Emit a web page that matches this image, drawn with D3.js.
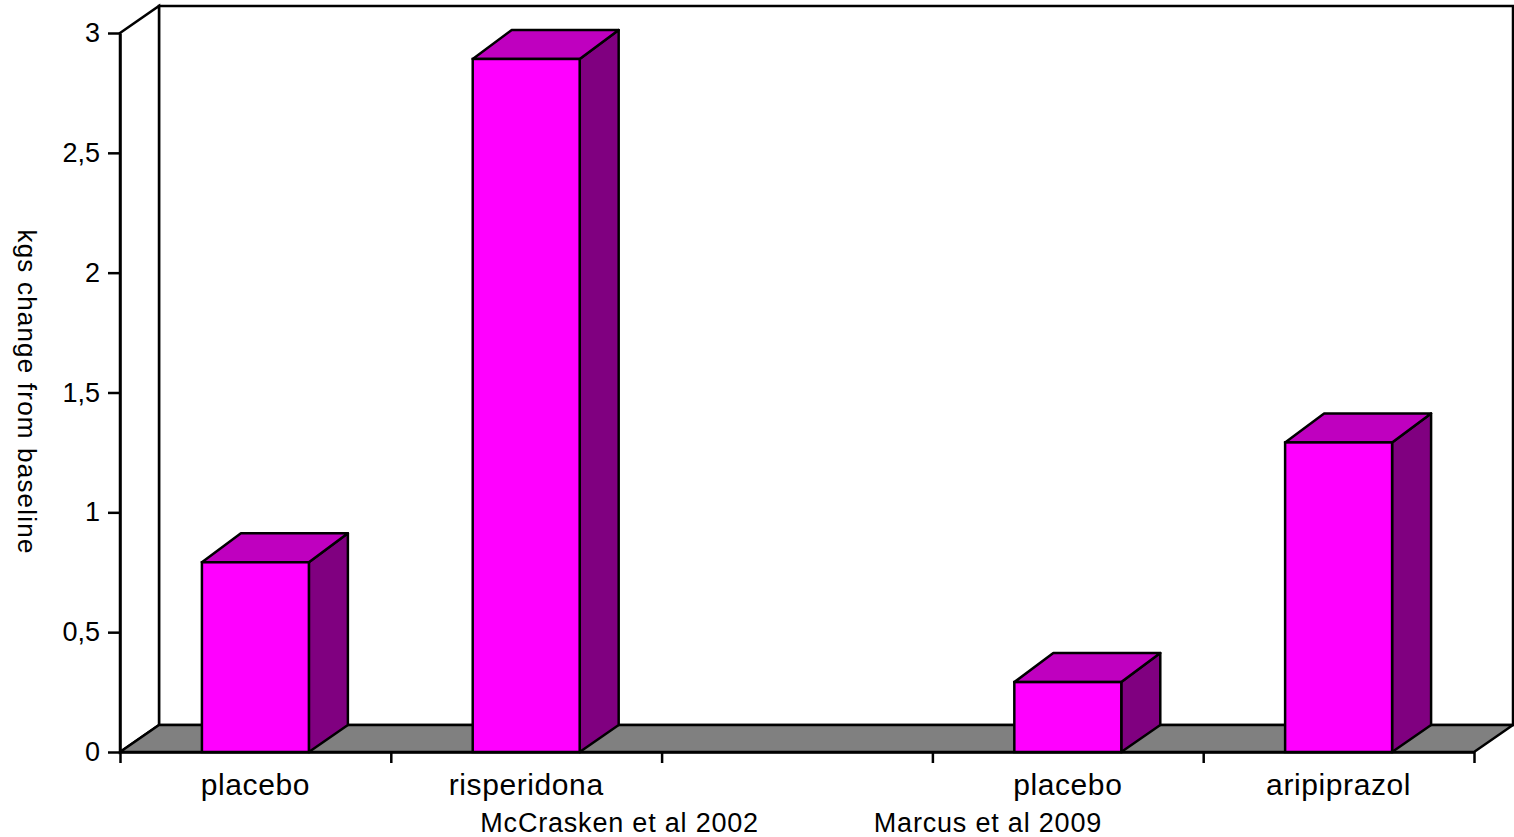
<!DOCTYPE html>
<html>
<head>
<meta charset="utf-8">
<script src="https://cdn.jsdelivr.net/npm/d3@7"></script>
<style>
  html, body { margin: 0; padding: 0; background: #fff; }
  svg { display: block; }
  text { font-family: "Liberation Sans", Arial, Helvetica, sans-serif; fill: #000; }
</style>
</head>
<body>
<svg id="chart" width="1514" height="837"></svg>
<script>
// Weight change from baseline (kg), two studies, two arms each
const categories = ["placebo", "risperidona", "", "placebo", "aripiprazol"];
const values = [0.8, 2.9, null, 0.3, 1.3];
const studies = ["McCrasken et al 2002", "Marcus et al 2009"];
const studySlots = [1, 3];
const yTicks = [0, 0.5, 1, 1.5, 2, 2.5, 3];
const yTitle = "kgs change from baseline";

const svg = d3.select("#chart");

// Front plane geometry and depth vectors of the 3D box
const x0 = 120, x1 = 1474, yBottom = 752, yTop = 33;
const depthX = 39, depthY = -27;          // floor / walls
const barDepthX = 39, barTopDepthY = -29; // bar tops recede a little more
const lw = 2.5;

const y = d3.scaleLinear().domain([0, 3]).range([yBottom, yTop]);
const slots = d3.scaleBand().domain(d3.range(categories.length)).range([x0, x1]).padding(0);
const slotEdges = d3.scaleLinear().domain([0, categories.length]).range([x0, x1]);
const barW = slots.step() * 0.395;

const colors = { front: "#FF00FF", top: "#BF00BF", side: "#800080", floor: "#808080" };
const pts = a => a.map(p => p.join(",")).join(" ");

// Back wall
svg.append("rect")
  .attr("x", x0 + depthX).attr("y", yTop + depthY)
  .attr("width", x1 - x0).attr("height", yBottom - yTop)
  .attr("fill", "#fff").attr("stroke", "#000").attr("stroke-width", lw);

// Side wall
svg.append("polygon")
  .attr("points", pts([[x0, yTop], [x0 + depthX, yTop + depthY], [x0 + depthX, yBottom + depthY], [x0, yBottom]]))
  .attr("fill", "#fff").attr("stroke", "#000").attr("stroke-width", lw);

// Floor
svg.append("polygon")
  .attr("points", pts([[x0, yBottom], [x1, yBottom], [x1 + depthX, yBottom + depthY], [x0 + depthX, yBottom + depthY]]))
  .attr("fill", colors.floor).attr("stroke", "#000").attr("stroke-width", lw).attr("stroke-linejoin", "round");

// Bars as boxes; the value is read on the back wall
const barData = values.map((v, i) => ({ v, i })).filter(d => d.v != null);
const bars = svg.append("g").selectAll("g").data(barData).join("g");

bars.each(function (d) {
  const g = d3.select(this);
  const L = slots(d.i) + (slots.step() - barW) / 2;
  const R = L + barW;
  const backTop = y(d.v) + depthY;
  const ft = backTop - barTopDepthY; // front edge of the top face
  // side face
  g.append("polygon")
    .attr("points", pts([[R, ft], [R + barDepthX, backTop], [R + barDepthX, yBottom + depthY], [R, yBottom]]))
    .attr("fill", colors.side).attr("stroke", "#000").attr("stroke-width", lw).attr("stroke-linejoin", "round");
  // top face
  g.append("polygon")
    .attr("points", pts([[L, ft], [L + barDepthX, backTop], [R + barDepthX, backTop], [R, ft]]))
    .attr("fill", colors.top).attr("stroke", "#000").attr("stroke-width", lw).attr("stroke-linejoin", "round");
  // front face
  g.append("rect")
    .attr("x", L).attr("y", ft).attr("width", barW).attr("height", yBottom - ft)
    .attr("fill", colors.front).attr("stroke", "#000").attr("stroke-width", lw);
});

// Value axis
const fmt = v => d3.format(".1~f")(v).replace(".", ",");
const yAxis = svg.append("g")
  .attr("transform", `translate(${x0},0)`)
  .call(d3.axisLeft(y).tickValues(yTicks).tickSize(12).tickSizeOuter(0).tickPadding(8).tickFormat(fmt));
yAxis.select(".domain").attr("stroke", "#000").attr("stroke-width", lw);
yAxis.selectAll(".tick line").attr("stroke", "#000").attr("stroke-width", lw);
yAxis.selectAll(".tick text")
  .style("font-family", '"Liberation Sans", Arial, sans-serif')
  .attr("font-size", 27).attr("fill", "#000");

// Category axis with boundary ticks
const xAxis = svg.append("g")
  .attr("transform", `translate(0,${yBottom})`)
  .call(d3.axisBottom(slotEdges).tickValues(d3.range(categories.length + 1)).tickSize(11).tickSizeOuter(0).tickFormat(""));
xAxis.select(".domain").attr("stroke", "#000").attr("stroke-width", lw);
xAxis.selectAll(".tick line").attr("stroke", "#000").attr("stroke-width", lw);

// Category labels
svg.append("g").selectAll("text").data(categories).join("text")
  .attr("x", (d, i) => slots(i) + slots.step() / 2)
  .attr("y", 795)
  .attr("text-anchor", "middle")
  .attr("font-size", 30)
  .attr("letter-spacing", 0.6)
  .text(d => d);

// Study labels, set under their arm pairs
const studyShift = [0.345, -0.295];
svg.append("g").selectAll("text").data(studies).join("text")
  .attr("x", (d, i) => slots(studySlots[i]) + slots.step() / 2 + studyShift[i] * slots.step())
  .attr("y", 832)
  .attr("text-anchor", "middle")
  .attr("font-size", 27)
  .attr("letter-spacing", 0.8)
  .text(d => d);

// Value axis title
svg.append("text")
  .attr("transform", "translate(18,392) rotate(90)")
  .attr("text-anchor", "middle")
  .attr("font-size", 26)
  .attr("letter-spacing", 1.2)
  .text(yTitle);
</script>
</body>
</html>
